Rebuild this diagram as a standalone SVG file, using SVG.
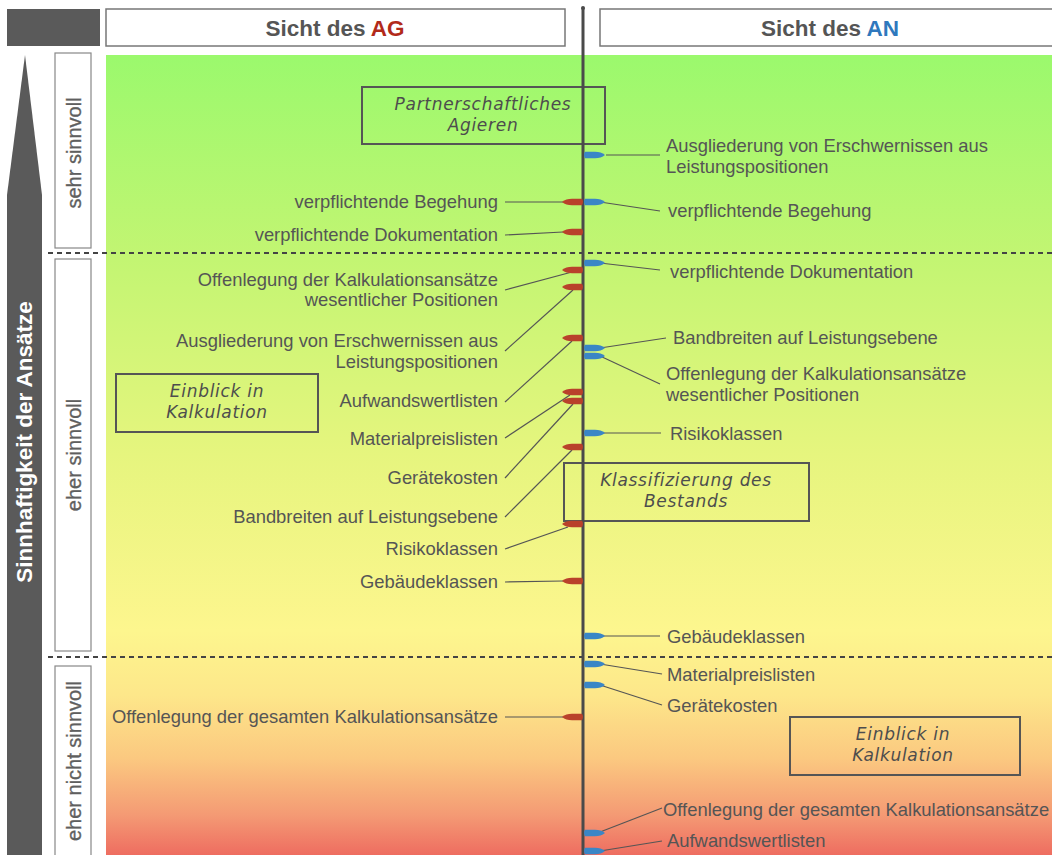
<svg xmlns="http://www.w3.org/2000/svg" xmlns:xlink="http://www.w3.org/1999/xlink" width="1052" height="855" viewBox="0 0 1052 855">
<defs>
<linearGradient id="bg" x1="0" y1="0" x2="0" y2="1">
<stop offset="0" stop-color="#9bf96d"/>
<stop offset="0.25" stop-color="#c2f572"/>
<stop offset="0.5" stop-color="#e6f57e"/>
<stop offset="0.72" stop-color="#fdf68e"/>
<stop offset="0.8" stop-color="#fde78a"/>
<stop offset="0.88" stop-color="#fbc880"/>
<stop offset="0.95" stop-color="#f49a74"/>
<stop offset="1" stop-color="#ee6d60"/>
</linearGradient>
<path id="mr" d="M-21,0 Q-17,-3.2 -11,-3.2 L-1,-3.2 Q1,0 -1,3.2 L-11,3.2 Q-17,3.2 -21,0Z" fill="#b9412b"/>
<path id="mb" d="M21,0 Q17,-3.2 11,-3.2 L1,-3.2 Q-1,0 1,3.2 L11,3.2 Q17,3.2 21,0Z" fill="#3a86c6"/>
<style>
.lbl{font-family:"Liberation Sans",Arial,sans-serif;font-size:18.4px;fill:#555555}
.l{text-anchor:end}
.hdr{font-family:"Liberation Sans",Arial,sans-serif;font-size:22.5px;font-weight:bold;fill:#555555;text-anchor:middle}
.lvl{font-family:"Liberation Sans",Arial,sans-serif;font-size:20px;fill:#5f5f5f;stroke:#5f5f5f;stroke-width:0.35;text-anchor:middle}
.hbox{fill:none;stroke:#555555;stroke-width:2}
.hand{font-family:"DejaVu Sans",sans-serif;font-style:oblique;font-size:17px;fill:#4d4d4d;text-anchor:middle;letter-spacing:0.7px}
.ld{stroke:#555555;stroke-width:1.2;fill:none}
.dash{stroke:#444444;stroke-width:1.8;stroke-dasharray:5,4}
</style>
</defs>
<rect width="1052" height="855" fill="#ffffff"/>
<rect x="106" y="55" width="946" height="800" fill="url(#bg)"/>
<g id="header">
<rect x="7" y="9" width="93" height="37" fill="#5a5a5a"/>
<rect x="106" y="9" width="459" height="37" fill="#ffffff" stroke="#777777" stroke-width="1.5"/>
<text class="hdr" x="335" y="36">Sicht des <tspan fill="#b22a1a">AG</tspan></text>
<rect x="600" y="9" width="460" height="37" fill="#ffffff" stroke="#777777" stroke-width="1.5"/>
<text class="hdr" x="830" y="36">Sicht des <tspan fill="#2f78bd">AN</tspan></text>
</g>
<g id="axis">
<path d="M25,55 L42,195 L42,855 L7,855 L7,195 Z" fill="#5a5a5a"/>
<text transform="translate(32,442) rotate(-90)" font-family="Liberation Sans,Arial,sans-serif" font-size="22.5" font-weight="bold" fill="#ffffff" text-anchor="middle">Sinnhaftigkeit der Ansätze</text>
</g>
<g id="levels">
<rect x="55" y="53" width="36" height="195" fill="#ffffff" stroke="#888888" stroke-width="1.2"/>
<text class="lvl" transform="translate(81,153) rotate(-90)">sehr sinnvoll</text>
<rect x="55" y="259" width="36" height="392" fill="#ffffff" stroke="#888888" stroke-width="1.2"/>
<text class="lvl" transform="translate(81,455) rotate(-90)">eher sinnvoll</text>
<rect x="55" y="666" width="36" height="195" fill="#ffffff" stroke="#888888" stroke-width="1.2"/>
<text class="lvl" transform="translate(81,761) rotate(-90)">eher nicht sinnvoll</text>
<line class="dash" x1="48" y1="253" x2="1052" y2="253"/>
<line class="dash" x1="48" y1="657" x2="1052" y2="657"/>
</g>
<g id="boxes">
<g id="box-partner">
<rect class="hbox" x="362" y="87" width="243" height="57"/>
<text class="hand" x="483" y="110">Partnerschaftliches</text>
<text class="hand" x="483" y="131">Agieren</text>
</g>
<g id="box-einblick-ag">
<rect class="hbox" x="116" y="374" width="202" height="58"/>
<text class="hand" x="217" y="397">Einblick in</text>
<text class="hand" x="217" y="418">Kalkulation</text>
</g>
<g id="box-klassifizierung">
<rect class="hbox" x="564" y="463" width="245" height="58"/>
<text class="hand" x="686" y="486">Klassifizierung des</text>
<text class="hand" x="686" y="507">Bestands</text>
</g>
<g id="box-einblick-an">
<rect class="hbox" x="790" y="717" width="230" height="58"/>
<text class="hand" x="903" y="740">Einblick in</text>
<text class="hand" x="903" y="761">Kalkulation</text>
</g>
</g>
<g id="connectors">
<line class="ld" x1="505" y1="202" x2="563" y2="202"/>
<line class="ld" x1="505" y1="235" x2="563" y2="232"/>
<line class="ld" x1="505" y1="290" x2="572" y2="272"/>
<line class="ld" x1="505" y1="351" x2="573" y2="290"/>
<line class="ld" x1="505" y1="402" x2="572" y2="341"/>
<line class="ld" x1="505" y1="438" x2="570" y2="395"/>
<line class="ld" x1="505" y1="478" x2="573" y2="404"/>
<line class="ld" x1="505" y1="517" x2="572" y2="450"/>
<line class="ld" x1="505" y1="549" x2="568" y2="527"/>
<line class="ld" x1="505" y1="582" x2="563" y2="581"/>
<line class="ld" x1="505" y1="717" x2="563" y2="717"/>
<line class="ld" x1="606" y1="155" x2="660" y2="155"/>
<line class="ld" x1="600" y1="202" x2="660" y2="211"/>
<line class="ld" x1="600" y1="263" x2="660" y2="270"/>
<line class="ld" x1="600" y1="348" x2="666" y2="338"/>
<line class="ld" x1="600" y1="356" x2="660" y2="384"/>
<line class="ld" x1="600" y1="433" x2="661" y2="433"/>
<line class="ld" x1="600" y1="636" x2="660" y2="636"/>
<line class="ld" x1="600" y1="664" x2="662" y2="674"/>
<line class="ld" x1="600" y1="685" x2="662" y2="705"/>
<line class="ld" x1="600" y1="832" x2="662" y2="808"/>
<line class="ld" x1="600" y1="851" x2="662" y2="841"/>
</g>
<g id="centerline">
<line x1="583" y1="8" x2="583" y2="855" stroke="#4a4a4a" stroke-width="3"/>
<circle cx="583" cy="8" r="2" fill="#4a4a4a"/>
</g>
<g id="marks">
<use xlink:href="#mr" x="583" y="202"/>
<use xlink:href="#mr" x="583" y="232"/>
<use xlink:href="#mr" x="583" y="270"/>
<use xlink:href="#mr" x="583" y="287"/>
<use xlink:href="#mr" x="583" y="338"/>
<use xlink:href="#mr" x="583" y="392"/>
<use xlink:href="#mr" x="583" y="401"/>
<use xlink:href="#mr" x="583" y="447"/>
<use xlink:href="#mr" x="583" y="524"/>
<use xlink:href="#mr" x="583" y="581"/>
<use xlink:href="#mr" x="583" y="717"/>
<use xlink:href="#mb" x="584" y="155"/>
<use xlink:href="#mb" x="584" y="202"/>
<use xlink:href="#mb" x="584" y="263"/>
<use xlink:href="#mb" x="584" y="348"/>
<use xlink:href="#mb" x="584" y="356"/>
<use xlink:href="#mb" x="584" y="433"/>
<use xlink:href="#mb" x="584" y="636"/>
<use xlink:href="#mb" x="584" y="664"/>
<use xlink:href="#mb" x="584" y="685"/>
<use xlink:href="#mb" x="584" y="833"/>
<use xlink:href="#mb" x="584" y="851"/>
</g>
<g id="ag-labels">
<text class="lbl l" x="498" y="208">verpflichtende Begehung</text>
<text class="lbl l" x="498" y="241">verpflichtende Dokumentation</text>
<text class="lbl l" x="498" y="286">Offenlegung der Kalkulationsansätze</text>
<text class="lbl l" x="498" y="306">wesentlicher Positionen</text>
<text class="lbl l" x="498" y="347">Ausgliederung von Erschwernissen aus</text>
<text class="lbl l" x="498" y="368">Leistungspositionen</text>
<text class="lbl l" x="498" y="407">Aufwandswertlisten</text>
<text class="lbl l" x="498" y="445">Materialpreislisten</text>
<text class="lbl l" x="498" y="484">Gerätekosten</text>
<text class="lbl l" x="498" y="523">Bandbreiten auf Leistungsebene</text>
<text class="lbl l" x="498" y="555">Risikoklassen</text>
<text class="lbl l" x="498" y="588">Gebäudeklassen</text>
<text class="lbl l" x="498" y="723">Offenlegung der gesamten Kalkulationsansätze</text>
</g>
<g id="an-labels">
<text class="lbl" x="666" y="152">Ausgliederung von Erschwernissen aus</text>
<text class="lbl" x="666" y="173">Leistungspositionen</text>
<text class="lbl" x="668" y="217">verpflichtende Begehung</text>
<text class="lbl" x="670" y="278">verpflichtende Dokumentation</text>
<text class="lbl" x="673" y="344">Bandbreiten auf Leistungsebene</text>
<text class="lbl" x="666" y="380">Offenlegung der Kalkulationsansätze</text>
<text class="lbl" x="666" y="401">wesentlicher Positionen</text>
<text class="lbl" x="670" y="440">Risikoklassen</text>
<text class="lbl" x="667" y="643">Gebäudeklassen</text>
<text class="lbl" x="667" y="681">Materialpreislisten</text>
<text class="lbl" x="667" y="712">Gerätekosten</text>
<text class="lbl" x="663" y="816">Offenlegung der gesamten Kalkulationsansätze</text>
<text class="lbl" x="667" y="847">Aufwandswertlisten</text>
</g>
</svg>
